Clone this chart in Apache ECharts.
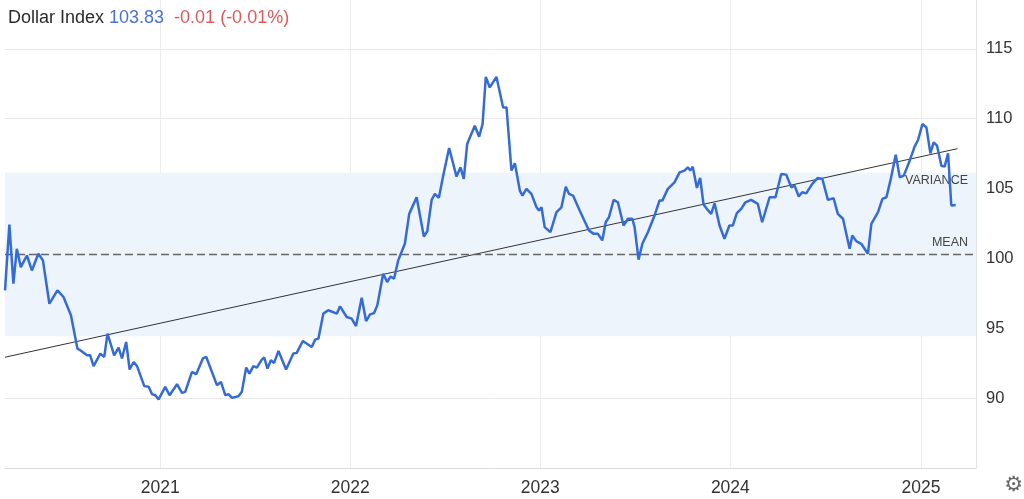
<!DOCTYPE html>
<html>
<head>
<meta charset="utf-8">
<script src="https://cdn.jsdelivr.net/npm/echarts@6/dist/echarts.min.js"></script>
<style>
html,body{margin:0;padding:0;background:#fff;}
#chart{width:1024px;height:499px;}
</style>
</head>
<body>
<div id="chart"></div>
<script>
// Dates as decimal years
const dateYears = [
2020.185,2020.208,2020.229,2020.247,2020.268,2020.300,2020.326,2020.360,2020.384,2020.418,
2020.460,2020.492,2020.531,2020.565,2020.580,2020.615,2020.632,2020.650,2020.685,2020.706,
2020.723,2020.758,2020.781,2020.799,2020.821,2020.839,2020.860,2020.878,2020.916,2020.939,
2020.956,2020.974,2020.991,2021.026,2021.049,2021.088,2021.114,2021.131,2021.167,2021.189,
2021.224,2021.242,2021.298,2021.319,2021.342,2021.359,2021.377,2021.411,2021.429,2021.452,
2021.469,2021.490,2021.508,2021.534,2021.547,2021.564,2021.582,2021.599,2021.622,2021.662,
2021.700,2021.718,2021.750,2021.797,2021.815,2021.832,2021.858,2021.884,2021.929,2021.946,
2021.981,2022.007,2022.030,2022.060,2022.083,2022.104,2022.125,2022.142,2022.173,2022.194,
2022.212,2022.230,2022.252,2022.287,2022.310,2022.349,2022.387,2022.405,2022.428,2022.445,
2022.466,2022.489,2022.520,2022.559,2022.580,2022.597,2022.615,2022.655,2022.678,2022.696,
2022.713,2022.734,2022.769,2022.804,2022.822,2022.848,2022.866,2022.892,2022.906,2022.927,
2022.953,2022.980,2022.993,2023.006,2023.023,2023.053,2023.085,2023.111,2023.134,2023.151,
2023.172,2023.207,2023.256,2023.281,2023.303,2023.326,2023.344,2023.361,2023.386,2023.408,
2023.438,2023.461,2023.484,2023.496,2023.517,2023.537,2023.566,2023.601,2023.627,2023.642,
2023.671,2023.706,2023.733,2023.759,2023.776,2023.789,2023.802,2023.824,2023.841,2023.859,
2023.876,2023.899,2023.917,2023.943,2023.969,2023.995,2024.013,2024.034,2024.057,2024.079,
2024.109,2024.144,2024.167,2024.206,2024.237,2024.267,2024.293,2024.320,2024.337,2024.359,
2024.377,2024.398,2024.430,2024.459,2024.483,2024.512,2024.542,2024.564,2024.591,2024.626,
2024.640,2024.661,2024.687,2024.722,2024.740,2024.775,2024.798,2024.819,2024.840,2024.868,
2024.889,2024.910,2024.938,2024.967,2024.985,2025.008,2025.029,2025.050,2025.067,2025.085,
2025.108,2025.125,2025.143,2025.160,2025.183
];
const dollarIndex = [
97.71,102.43,98.19,100.69,99.38,100.21,99.14,100.34,99.86,96.76,
97.71,97.24,95.93,93.55,93.43,93.07,93.07,92.29,93.19,92.95,
94.62,93.07,93.62,92.84,94.02,92.05,92.59,92.29,90.86,90.81,
90.29,90.21,89.91,90.81,90.21,91.00,90.38,90.45,91.88,91.71,
92.84,92.95,90.93,91.16,90.21,90.29,90.02,90.14,90.45,92.19,
91.76,92.29,92.19,92.76,92.91,92.12,92.71,92.52,93.38,92.05,
93.19,93.24,94.09,93.66,94.19,94.26,96.05,96.29,96.05,96.57,
95.81,95.69,95.16,97.19,95.52,96.00,96.09,96.64,98.91,98.31,
98.71,98.55,99.86,101.05,103.19,104.38,101.57,101.95,104.19,104.62,
104.34,105.93,107.91,105.86,106.52,105.69,108.19,109.50,108.71,109.62,
113.00,112.24,113.00,110.81,110.81,106.29,106.81,104.86,104.50,104.98,
104.62,103.66,103.43,103.66,102.24,101.88,103.31,103.66,105.14,104.62,
104.50,103.43,102.00,101.76,101.76,101.29,102.59,102.95,104.19,104.02,
102.36,102.84,102.84,102.24,99.91,101.05,101.88,103.07,104.14,104.14,
104.98,105.45,106.16,106.29,106.52,106.29,106.57,105.05,105.76,103.86,
103.55,103.19,103.95,102.36,101.41,102.36,102.36,103.24,103.55,104.02,
104.19,103.91,102.59,104.38,104.38,106.05,106.00,105.09,105.21,104.43,
104.74,104.66,105.34,105.76,105.69,104.19,104.31,103.19,102.84,100.69,
101.64,101.24,101.05,100.34,102.48,103.31,104.26,104.38,105.57,107.43,
105.81,105.93,106.88,108.00,108.48,109.62,109.38,107.52,108.31,108.07,
106.64,106.57,107.52,103.79,103.83
];
const meanValue = 100.29;
const varianceBand = [94.43, 106.14];
const trendYears = [2020.185, 2025.193];
const trendValues = [92.93, 107.86];
const axisYears = [2020.185, 2025.29];
const yTicks = { min: 85, max: 118.5, step: 5 };
const titleParts = { name: 'Dollar Index', last: '103.83', change: '-0.01 (-0.01%)' };

function yearToTime(y) {
  const yr = Math.floor(y);
  const s = Date.UTC(yr, 0, 1), e = Date.UTC(yr + 1, 0, 1);
  return s + (y - yr) * (e - s);
}
const lineData = dateYears.map((y, i) => [yearToTime(y), dollarIndex[i]]);
const trendData = trendYears.map((y, i) => [yearToTime(y), trendValues[i]]);
const axisFont = 'Arial, "Liberation Sans", sans-serif';

const chart = echarts.init(document.getElementById('chart'));
chart.setOption({
  animation: false,
  backgroundColor: '#ffffff',
  textStyle: { fontFamily: 'Arial, "Liberation Sans", sans-serif' },
  title: {
    left: 3, top: 4,
    text: '{a|' + titleParts.name + '} {b|' + titleParts.last + '}  {c|' + titleParts.change + '}',
    textStyle: {
      fontWeight: 'normal',
      rich: {
        a: { fontSize: 18, color: '#2b2b2b', fontFamily: 'Arial', fontWeight: 'normal' },
        b: { fontSize: 18, color: '#4a72cf', fontFamily: 'Arial', fontWeight: 'normal' },
        c: { fontSize: 18, color: '#dd5a5a', fontFamily: 'Arial', fontWeight: 'normal' }
      }
    }
  },
  grid: { left: 5, right: 48, top: -1, bottom: 31, containLabel: false },
  xAxis: {
    type: 'time',
    min: yearToTime(axisYears[0]),
    max: yearToTime(axisYears[1]),
    axisLine: { show: true, lineStyle: { color: '#dcdcdc', width: 1 } },
    axisTick: { show: false },
    splitLine: { show: true, showMinLine: false, showMaxLine: false, lineStyle: { color: '#ececec', width: 1 } },
    axisLabel: {
      color: '#333', fontSize: 17.5, margin: 11, fontFamily: axisFont,
      showMinLabel: false, showMaxLabel: false,
      formatter: function (v) {
        const d = new Date(v);
        if (d.getUTCMonth() === 0 && d.getUTCDate() === 1) return String(d.getUTCFullYear());
        return '';
      }
    }
  },
  yAxis: {
    type: 'value',
    position: 'right',
    min: yTicks.min, max: yTicks.max, interval: yTicks.step,
    axisLine: { show: true, lineStyle: { color: '#e2e2e2', width: 1 } },
    axisTick: { show: false },
    splitLine: { show: true, showMinLine: false, showMaxLine: false, lineStyle: { color: '#e9e9e9', width: 1 } },
    axisLabel: { color: '#333', fontSize: 16.5, margin: 10, fontFamily: axisFont, showMinLabel: false, showMaxLabel: false }
  },
  series: [
    {
      type: 'line',
      data: lineData,
      showSymbol: false,
      symbol: 'none',
      z: 5,
      lineStyle: { color: '#356bd6', width: 2.5 },
      markArea: {
        silent: true,
        itemStyle: { color: '#edf4fc' },
        label: {
          show: true, position: 'insideTopRight', distance: 0, offset: [-8, 1],
          formatter: 'VARIANCE', color: '#444', fontSize: 12.5, fontFamily: 'Arial'
        },
        data: [[{ yAxis: varianceBand[1], name: 'VARIANCE' }, { yAxis: varianceBand[0] }]]
      },
      markLine: {
        silent: true,
        symbol: 'none',
        lineStyle: { color: '#666', type: [8, 4], width: 1.3 },
        label: {
          show: true, position: 'insideEndTop', distance: [8, 5],
          formatter: 'MEAN', color: '#444', fontSize: 12.5, fontFamily: 'Arial'
        },
        data: [{ yAxis: meanValue }]
      }
    },
    {
      type: 'line',
      data: trendData,
      showSymbol: false,
      symbol: 'none',
      silent: true,
      z: 4,
      lineStyle: { color: '#333', width: 1 }
    }
  ],
  graphic: [{
    type: 'text', right: 1, bottom: 3,
    style: { text: '⚙', fontSize: 21, fill: '#666', fontFamily: 'DejaVu Sans' }
  }]
});
</script>
</body>
</html>
